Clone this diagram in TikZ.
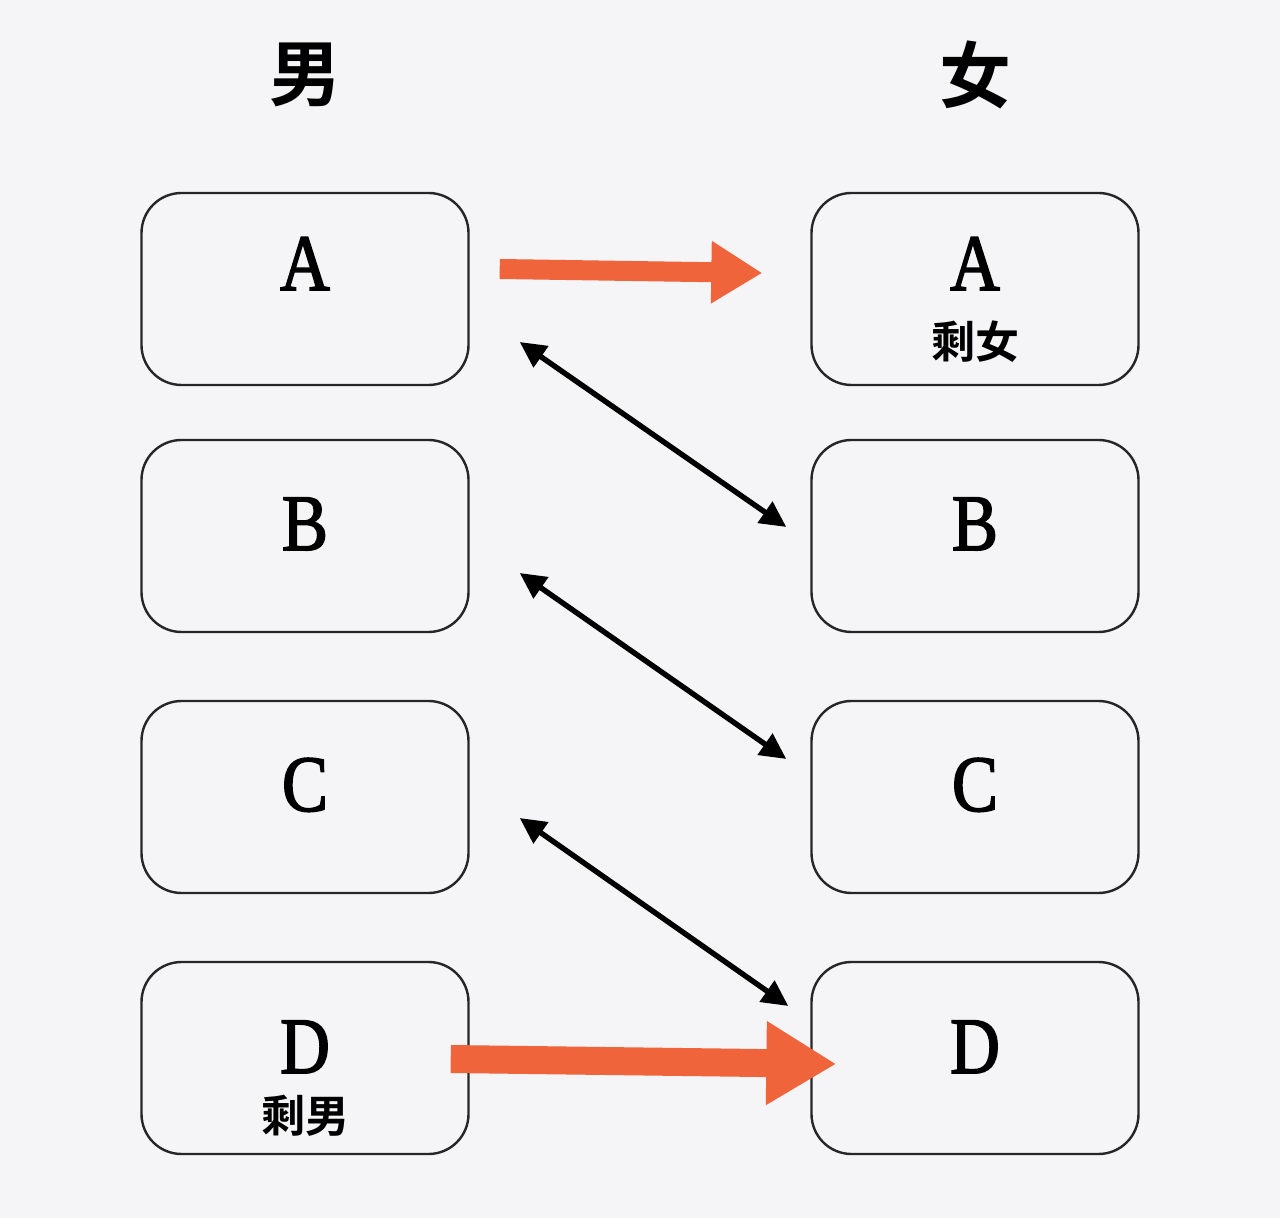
\documentclass[tikz,border=0pt]{standalone}
\usepackage{fontspec}
\setmainfont{Liberation Serif}
\newfontfamily\letterfont{Liberation Serif}[FakeStretch=0.86, FakeBold=2]
\newfontfamily\cjk{Noto Sans CJK SC}[UprightFont=* Medium, BoldFont=* Bold]
\usetikzlibrary{arrows.meta,calc}
\definecolor{bgcol}{RGB}{245,245,247}
\definecolor{arrorange}{RGB}{240,100,60}
\tikzset{
  person/.style={draw=black!85, line width=1.2pt, rounded corners=20pt,
    minimum width=163.5pt, minimum height=96pt},
  letter/.style={anchor=base, inner sep=0pt, font=\letterfont\fontsize{40}{40}\selectfont},
  tag/.style={inner sep=0pt, font=\cjk\bfseries\fontsize{22}{22}\selectfont},
  title/.style={inner sep=0pt, font=\cjk\bfseries\fontsize{36}{36}\selectfont},
  pair/.style={line width=2.7pt,
    {Triangle[length=13pt,width=12.5pt]}-{Triangle[length=13pt,width=12.5pt]}},
  pick/.style={arrorange, -{Triangle[length=#1]}},
}
\begin{document}
\begin{tikzpicture}[x=0.5pt,y=-0.5pt]
\fill[bgcol] (0,0) rectangle (1280,1218);
\useasboundingbox (0,0) rectangle (1280,1218);
% titles
\node[title] (tm) at (305,75) {男};
\node[title] (tw) at (975,75) {女};
% the two columns
\foreach \n/\y in {A/289,B/536,C/797,D/1058}{
  \node[person] (m\n) at (305,\y) {};
  \node[person] (w\n) at (975,\y) {};
}
\node[letter] (lmA) at ([yshift=-0.5pt]mA.center) {A};
\node[letter] (lwA) at ([yshift=-0.5pt]wA.center) {A};
\node[letter] (lmB) at ([yshift=-7pt]mB.center) {B};
\node[letter] (lwB) at ([yshift=-7pt]wB.center) {B};
\node[letter] (lmC) at ([yshift=-7pt]mC.center) {C};
\node[letter] (lwC) at ([yshift=-7pt]wC.center) {C};
\node[letter] (lmD) at ([yshift=-7.5pt]mD.center) {D};
\node[letter] (lwD) at ([yshift=-7.5pt]wD.center) {D};
\node[tag] (swA) at ([yshift=-26.5pt]wA.center) {剩女};
\node[tag] (smD) at ([yshift=-29pt]mD.center) {剩男};
% pairs
\draw[pair] ($(mA.east)+(50,53)$) -- ($(wB.west)+(-24,-9)$);
\draw[pair] ($(mB.east)+(50,37)$) -- ($(wC.west)+(-24,-38)$);
\draw[pair] ($(mC.east)+(50,21)$) -- ($(wD.west)+(-22,-52)$);
% left over
\draw[pick={25.5pt,width=29.5pt}, line width=10pt]
  ($(mA.east)+(30,-20)$) -- ($(wA.west)+(-48,-16)$);
\draw[pick={35pt,width=39.5pt}, line width=14pt]
  ($(mD.east)+(-19,1)$) -- ($(wD.west)+(26,6)$);
\end{tikzpicture}
\end{document}
